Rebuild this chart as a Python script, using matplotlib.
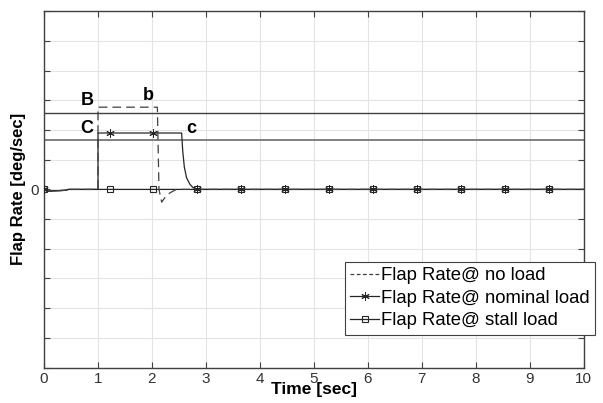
import matplotlib
matplotlib.use("Agg")
import matplotlib.pyplot as plt
from matplotlib.lines import Line2D

plt.rcParams['font.family'] = ['Liberation Sans', 'DejaVu Sans']

# no load (dashed)
t_none = [0, 0.06, 0.4, 0.45, 1.0, 1.0, 2.1, 2.13, 2.18, 2.25, 2.33, 2.45, 10]
y_none = [0, -0.6, -0.3, 0, 0, 27.7, 27.7, 0, -4.3, -2.5, -1.2, 0, 0]

# nominal load
t_nom = [0, 0.06, 0.4, 0.45, 1.0, 1.0, 2.55, 2.57, 2.6, 2.64, 2.7, 2.76, 2.85, 10]
y_nom = [0, -0.6, -0.3, 0, 0, 19.0, 19.0, 13.0, 7.5, 4.0, 1.8, 0.6, 0, 0]
mark_t_nom = [0, 1.22, 2.02, 2.83, 3.65, 4.46, 5.28, 6.09, 6.91, 7.72, 8.54, 9.35]
mark_y_nom = [0, 19.0, 19.0, 0, 0, 0, 0, 0, 0, 0, 0, 0]

# stall load
t_stall = [0, 0.06, 0.4, 0.45, 10]
y_stall = [0, -0.6, -0.3, 0, 0]
mark_t_stall = [0, 1.22, 2.02, 2.83, 3.65, 4.46, 5.28, 6.09, 6.91, 7.72, 8.54, 9.35]
mark_y_stall = [0, 0, 0, 0, 0, 0, 0, 0, 0, 0, 0, 0]

# reference levels
level_B = 25.8
level_C = 16.5

x_ticks = list(range(0, 11))
y_ticks = list(range(-60, 61, 10))

line_col = '#262626'
star = (6, 2, 0)

fig = plt.figure(figsize=(6.03, 4.03), dpi=100)
ax = fig.add_axes([0.073, 0.088, 0.895, 0.884])

ax.axhline(level_B, color='#404040', lw=1.0, zorder=2)
ax.axhline(level_C, color='#808080', lw=1.4, zorder=2)

ax.plot(t_stall, y_stall, color=line_col, lw=0.9, zorder=3)
ax.plot(mark_t_stall, mark_y_stall, ls='none', marker='s', ms=4,
        mfc='none', mec=line_col, mew=0.8, zorder=4)
ax.plot(t_nom, y_nom, color=line_col, lw=0.9, zorder=3)
ax.plot(mark_t_nom, mark_y_nom, ls='none', marker=star, ms=6,
        color=line_col, mew=0.7, zorder=4)
ax.plot(t_none, y_none, color='#404040', lw=0.9, ls=(0, (7, 4)), zorder=3)

ax.text(0.8, 30.0, 'B', fontsize=13, fontweight='bold', ha='center', va='center')
ax.text(0.8, 20.5, 'C', fontsize=13, fontweight='bold', ha='center', va='center')
ax.text(1.93, 31.6, 'b', fontsize=13, fontweight='bold', ha='center', va='center')
ax.text(2.73, 20.5, 'c', fontsize=13, fontweight='bold', ha='center', va='center')

ax.set_xlim(0, 10)
ax.set_ylim(-60, 60)
ax.set_xticks(x_ticks)
ax.set_yticks(y_ticks)
ax.set_yticklabels(['0' if v == 0 else '' for v in y_ticks])
ax.tick_params(direction='in', top=True, right=True, length=4, width=0.8,
               colors='#404040', labelcolor='#333333', labelsize=11)
ax.grid(True, color='#e3e3e3', lw=0.8)
ax.set_axisbelow(True)
for s in ax.spines.values():
    s.set_color('#404040')
    s.set_linewidth(1.0)

ax.set_xlabel('Time [sec]', fontsize=12.5, fontweight='bold')
ax.xaxis.set_label_coords(0.5, -0.062)
ax.xaxis.label.set_va('center')
ax.set_ylabel('Flap Rate [deg/sec]', fontsize=12, fontweight='bold')
ax.yaxis.set_label_coords(-0.048, 0.5)
ax.yaxis.label.set_va('center')

handles = [
    Line2D([], [], color='#404040', lw=0.9, ls=(0, (3, 2))),
    Line2D([], [], color=line_col, lw=0.9, marker=star, ms=6, mew=0.7),
    Line2D([], [], color=line_col, lw=0.9, marker='s', ms=4, mfc='none', mew=0.8),
]
labels = ['Flap Rate@ no load', 'Flap Rate@ nominal load', 'Flap Rate@ stall load']
leg = ax.legend(handles, labels, loc='upper left', bbox_to_anchor=(0.572, 0.351),
                bbox_transform=fig.transFigure, fontsize=13.3, frameon=True,
                fancybox=False, framealpha=1, edgecolor='#404040',
                borderaxespad=0, borderpad=0.3, handlelength=1.55,
                handletextpad=0.08, labelspacing=0.3)
leg.get_frame().set_linewidth(0.8)

fig.savefig('out.png', dpi=100)
